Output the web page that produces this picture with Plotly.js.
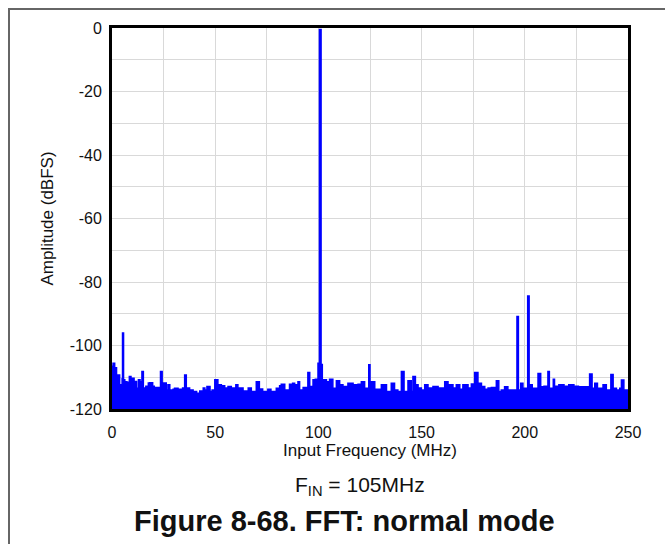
<!DOCTYPE html>
<html>
<head>
<meta charset="utf-8">
<script src="https://cdn.plot.ly/plotly-3.0.1.min.js"></script>
<style>
html,body{margin:0;padding:0;background:#fff;}
#chart{width:665px;height:544px;}
</style>
</head>
<body>
<div id="chart"></div>
<script>
// Frequency bins (MHz) and amplitude (dBFS)
const freqMHz = [
  0, 0.5, 1.3, 2.2, 3.7, 4.9, 5.1, 5.6, 6.2, 7.2, 8.4, 9.2, 10.7, 11.9, 12.8, 13.6,
  14.5, 15.2, 16.4, 17.6, 18.3, 19.7, 20.5, 23.5, 24.3, 25.5, 26.3, 27.1, 28, 29.6,
  30.3, 32, 34.2, 35.2, 36, 37.6, 39.3, 41, 42.5, 44.2, 45, 46, 47.5, 48.5, 49.8,
  51.3, 53, 54.6, 56.2, 57.8, 60, 61, 63.5, 66, 67.5, 69.9, 71.4, 73, 75.5, 77,
  79.6, 81.2, 82, 83.7, 86, 87.5, 88.5, 90.1, 90.9, 92.6, 94.9, 95.8, 97.4, 98.5,
  99.8, 100.5, 101.3, 101.9, 103.9, 105.4, 107, 108.7, 110.3, 111.9, 114.3, 116.8,
  119.2, 120.8, 122.4, 124.4, 125.0, 125.7, 127.3, 130.5, 133, 135.3, 136.9, 138.5,
  140.2, 141.5, 143.4, 145, 145.8, 147, 148.3, 149.9, 151.5, 153.1, 155.5, 158,
  161.2, 162.8, 165.2, 166.8, 168.5, 170, 172.5, 174.1, 175.7, 177.3, 179, 180.6,
  182.2, 183.8, 186.2, 187.4, 188, 188.6, 190.2, 191.8, 196.2, 196.9, 198, 199.1,
  201.4, 202.1, 203.6, 206.4, 207.7, 209.3, 211.2, 211.9, 213.8, 214.4, 216.5, 219,
  221.3, 223.8, 226, 231.4, 232.6, 233.9, 235.2, 237.9, 239.5, 241.7, 242.8, 244.4,
  246, 246.8, 248, 250
];
const ampDBFS = [
  -106.5, -105.6, -107, -109.3, -112.4, -110.5, -96.1, -110.8, -111.4, -111.6, -109.8, -110.3, -111.3, -113.5, -110.8, -111.4,
  -108.2, -113.4, -112.8, -111.8, -111.7, -112.8, -113.2, -108.2, -111.8, -111.8, -114, -112.4, -114, -113.8,
  -113.5, -113.8, -113.4, -109.3, -113.4, -114, -114.5, -115, -114.3, -113.4, -114, -112.9, -114.5, -114, -110.8,
  -112.4, -112.7, -113.4, -112.9, -113.4, -112.4, -113.4, -114.3, -113.4, -114.5, -111.4, -113.7, -114.5, -113.8, -114.5,
  -113.5, -112.7, -112.2, -114, -112.2, -111.9, -112.4, -111.4, -114, -113.2, -108.5, -112.9, -110.8, -110.6,
  -105.6, -0.5, -106, -110.8, -111.4, -110.6, -113.5, -111.1, -112.4, -112.9, -111.9, -112.4,
  -112.2, -111.4, -113.5, -106.1, -111.9, -111.4, -113.8, -112.4, -114.5, -111.9, -114, -114.5,
  -108.2, -114.5, -111.1, -114.5, -109.8, -112.4, -113.4, -114, -112.4, -113.4, -112.9, -113.4,
  -111.4, -112.4, -113.4, -112.4, -113.8, -112.4, -113.4, -112.1, -108.5, -111.9, -112.9, -113.8,
  -113.4, -113.2, -111.1, -114.5, -115, -114, -113, -114, -90.9, -114, -111.9, -113.5,
  -84.4, -112.4, -113.5, -108.8, -113, -112.8, -108.2, -113.5, -110.6, -112.8, -112.4, -112.8,
  -112.4, -112.8, -113, -109, -113.5, -111.9, -113.5, -112.4, -114, -109.1, -113.5, -114,
  -113.5, -110.9, -114, -114
];
const xTickVals = [0, 50, 100, 150, 200, 250];
const xTickText = ["0", "50", "100", "150", "200", "250"];
const yTickVals = [-120, -100, -80, -60, -40, -20, 0];
const yTickText = ["-120", "-100", "-80", "-60", "-40", "-20", "0"];
const floorDB = -120;

const font = "Liberation Sans, Arial, sans-serif";
const grid = "#d9d9d9";

const traces = [
  {
    x: [xTickVals[0], xTickVals[xTickVals.length - 1]],
    y: [floorDB, floorDB],
    mode: "lines",
    line: {width: 0, color: "rgba(0,0,0,0)"},
    hoverinfo: "skip",
    showlegend: false
  },
  {
    x: freqMHz,
    y: ampDBFS,
    mode: "lines",
    line: {color: "#0000ff", width: 1.5, shape: "hv"},
    fill: "tonexty",
    fillcolor: "#0000ff",
    showlegend: false
  }
];

// plot area in px: left 112, right 628, top 28, bottom 409
const L = 112, T = 28, W = 516, H = 381;
const px2x = p => (p - L) / W;
const px2y = p => (T + H - p) / H;

const layout = {
  width: 665, height: 544,
  margin: {l: L, r: 665 - L - W, t: T, b: 544 - T - H, pad: 0},
  paper_bgcolor: "#ffffff",
  plot_bgcolor: "#ffffff",
  font: {family: font, size: 16, color: "#111"},
  showlegend: false,
  xaxis: {
    range: [0, 250],
    tickvals: xTickVals,
    ticktext: xTickText,
    ticks: "",
    ticklabelstandoff: 7,
    showgrid: true, gridcolor: grid, gridwidth: 1,
    minor: {dtick: 25, tick0: 0, showgrid: true, gridcolor: grid, gridwidth: 1},
    showline: true, linecolor: "#000", linewidth: 3, mirror: true,
    zeroline: false,
    tickfont: {family: font, size: 16, color: "#111"},
    title: {text: "Input Frequency (MHz)", font: {family: font, size: 17, color: "#111"}, standoff: 0},
    fixedrange: true
  },
  yaxis: {
    range: [-120, 0],
    tickvals: yTickVals,
    ticktext: yTickText,
    ticks: "",
    ticklabelstandoff: 4,
    showgrid: true, gridcolor: grid, gridwidth: 1,
    minor: {dtick: 10, tick0: 0, showgrid: true, gridcolor: grid, gridwidth: 1},
    showline: true, linecolor: "#000", linewidth: 3, mirror: true,
    zeroline: false,
    tickfont: {family: font, size: 16, color: "#111"},
    title: {text: "Amplitude (dBFS)", font: {family: font, size: 17, color: "#111"}, standoff: 12},
    fixedrange: true
  },
  shapes: [
    {
      type: "rect", xref: "paper", yref: "paper",
      x0: px2x(9), x1: px2x(700), y0: px2y(600), y1: px2y(9),
      line: {color: "#666", width: 2}, fillcolor: "rgba(0,0,0,0)", layer: "below"
    }
  ],
  annotations: [
    {
      text: "F<sub>IN</sub> = 105MHz",
      xref: "paper", yref: "paper",
      x: px2x(360), y: px2y(486),
      xanchor: "center", yanchor: "middle",
      showarrow: false,
      font: {family: font, size: 21, color: "#111"}
    },
    {
      text: "<b>Figure 8-68. FFT: normal mode</b>",
      xref: "paper", yref: "paper",
      x: px2x(344), y: px2y(521),
      xanchor: "center", yanchor: "middle",
      showarrow: false,
      font: {family: font, size: 29, color: "#111"}
    }
  ]
};

Plotly.newPlot("chart", traces, layout, {displayModeBar: false, staticPlot: true});
</script>
</body>
</html>
